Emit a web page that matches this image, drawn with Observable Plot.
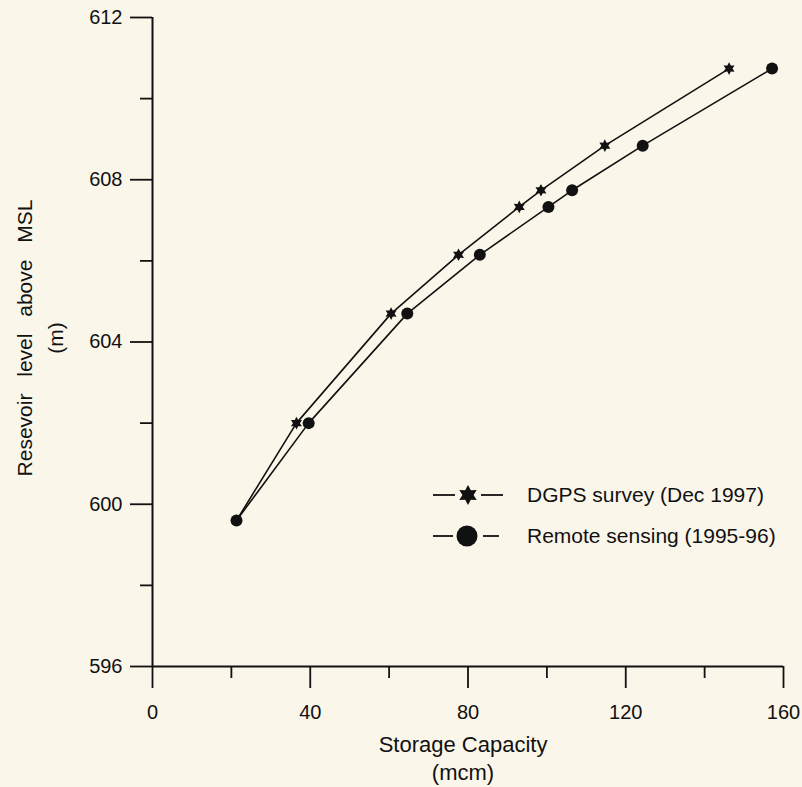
<!DOCTYPE html>
<html>
<head>
<meta charset="utf-8">
<script src="https://cdn.jsdelivr.net/npm/d3@7"></script>
<script src="https://cdn.jsdelivr.net/npm/@observablehq/plot@0.6"></script>
<style>
  html, body { margin: 0; padding: 0; background: #fbf6ea; }
  #wrap { position: relative; width: 802px; height: 787px; font-family: "Liberation Sans", Arial, sans-serif; color: #111; }
  #wrap svg.plot { position: absolute; left: 0; top: 0; }
  .legend { position: absolute; left: 433px; top: 474px; }
  .legend .row { display: flex; align-items: center; height: 41px; }
  .legend .row svg { width: 70px; height: 28px; display: block; }
  .legend .label { margin-left: 24px; font-size: 21px; white-space: nowrap; }
</style>
</head>
<body>
<div id="wrap"></div>
<script>
// ---- data ----
const levels       = [599.6, 602.0, 604.7, 606.15, 607.33, 607.74, 608.84, 610.74];
const dgpsCapacity = [21.3, 36.5, 60.5, 77.6, 93.0, 98.5, 114.7, 146.2];
const rsCapacity   = [21.3, 39.6, 64.6, 83.0, 100.4, 106.4, 124.3, 157.1];
const seriesNames = ["DGPS survey (Dec 1997)", "Remote sensing (1995-96)"];
const xMajorTicks = [0, 40, 80, 120, 160];
const xMinorTicks = [20, 60, 100, 140];
const yMajorTicks = [596, 600, 604, 608, 612];
const yMinorTicks = [598, 602, 606, 610];
const xTitle = "Storage Capacity\n(mcm)";
const yTitle = "Resevoir level above MSL\n(m)";

const dgps = levels.map((y, i) => ({x: dgpsCapacity[i], y, i}));
const rs = levels.map((y, i) => ({x: rsCapacity[i], y, i}));

// six-pointed star symbol
const hexagram = {
  draw(context, size) {
    const R = Math.sqrt(size / Math.PI) * 1.15;
    const r = R * 0.55;
    for (let k = 0; k < 12; ++k) {
      const a = -Math.PI / 2 + k * Math.PI / 6;
      const rad = k % 2 === 0 ? R : r;
      const px = rad * Math.cos(a), py = rad * Math.sin(a);
      if (k === 0) context.moveTo(px, py); else context.lineTo(px, py);
    }
    context.closePath();
  }
};

const ink = "#111";

const chart = Plot.plot({
  width: 802,
  height: 787,
  marginLeft: 152,
  marginRight: 19,
  marginTop: 17,
  marginBottom: 121,
  style: {background: "transparent", fontFamily: "'Liberation Sans', Arial, sans-serif", color: ink},
  x: {domain: [0, 160], label: null},
  y: {domain: [596, 612], label: null},
  marks: [
    Plot.axisY(yMajorTicks, {tickSize: 22, tickPadding: 8, fontSize: 20, strokeWidth: 1.8, stroke: ink, fill: ink}),
    Plot.axisY(yMinorTicks, {tickSize: 12, tickFormat: () => "", strokeWidth: 1.8, stroke: ink}),
    Plot.axisX(xMajorTicks, {tickSize: 22, tickPadding: 16, fontSize: 20, strokeWidth: 1.8, stroke: ink, fill: ink}),
    Plot.axisX(xMinorTicks, {tickSize: 12, tickFormat: () => "", strokeWidth: 1.8, stroke: ink}),
    Plot.ruleX([0], {stroke: ink, strokeWidth: 2}),
    Plot.ruleY([596], {stroke: ink, strokeWidth: 2}),
    Plot.line(dgps, {x: "x", y: "y", stroke: ink, strokeWidth: 1.6}),
    Plot.line(rs, {x: "x", y: "y", stroke: ink, strokeWidth: 1.6}),
    Plot.dot(dgps.filter(d => d.i > 0), {x: "x", y: "y", r: 5.5, symbol: hexagram, fill: ink, stroke: "none"}),
    Plot.dot(rs, {x: "x", y: "y", r: 6, fill: ink, stroke: "none"}),
    Plot.text([xTitle], {text: d => d, frameAnchor: "bottom", textAnchor: "middle", lineAnchor: "top", dx: -5, dy: 66, lineHeight: 1.27, fontSize: 22, fill: ink}),
    Plot.text([yTitle], {text: d => d, frameAnchor: "left", textAnchor: "middle", rotate: -90, lineAnchor: "middle", dx: -114.5, dy: -4, lineHeight: 1.48, fontSize: 21, fill: ink})
  ]
});
chart.classList.add("plot");
d3.select(chart).selectAll("text")
  .filter(function() { return this.textContent.startsWith("Resevoir"); })
  .style("word-spacing", "11px");
const wrap = document.getElementById("wrap");
wrap.appendChild(chart);

// legend
const legend = document.createElement("div");
legend.className = "legend";
const starPath = (() => {
  const R = 10, r = 5.6, cx = 35, cy = 14;
  let p = "";
  for (let k = 0; k < 12; ++k) {
    const a = -Math.PI / 2 + k * Math.PI / 6;
    const rad = k % 2 === 0 ? R : r;
    p += (k === 0 ? "M" : "L") + (cx + rad * Math.cos(a)).toFixed(2) + "," + (cy + rad * Math.sin(a)).toFixed(2);
  }
  return p + "Z";
})();
const icons = [
  `<svg viewBox="0 0 70 28"><line x1="0" y1="14" x2="22" y2="14" stroke="${ink}" stroke-width="1.8"/><line x1="48" y1="14" x2="70" y2="14" stroke="${ink}" stroke-width="1.8"/><path d="${starPath}" fill="${ink}"/></svg>`,
  `<svg viewBox="0 0 70 28"><line x1="0" y1="14" x2="20" y2="14" stroke="${ink}" stroke-width="1.8"/><line x1="50" y1="14" x2="66" y2="14" stroke="${ink}" stroke-width="1.8"/><circle cx="34" cy="14" r="10.5" fill="${ink}"/></svg>`
];
seriesNames.forEach((name, i) => {
  const row = document.createElement("div");
  row.className = "row";
  row.innerHTML = icons[i] + `<span class="label">${name}</span>`;
  legend.appendChild(row);
});
wrap.appendChild(legend);
</script>
</body>
</html>
